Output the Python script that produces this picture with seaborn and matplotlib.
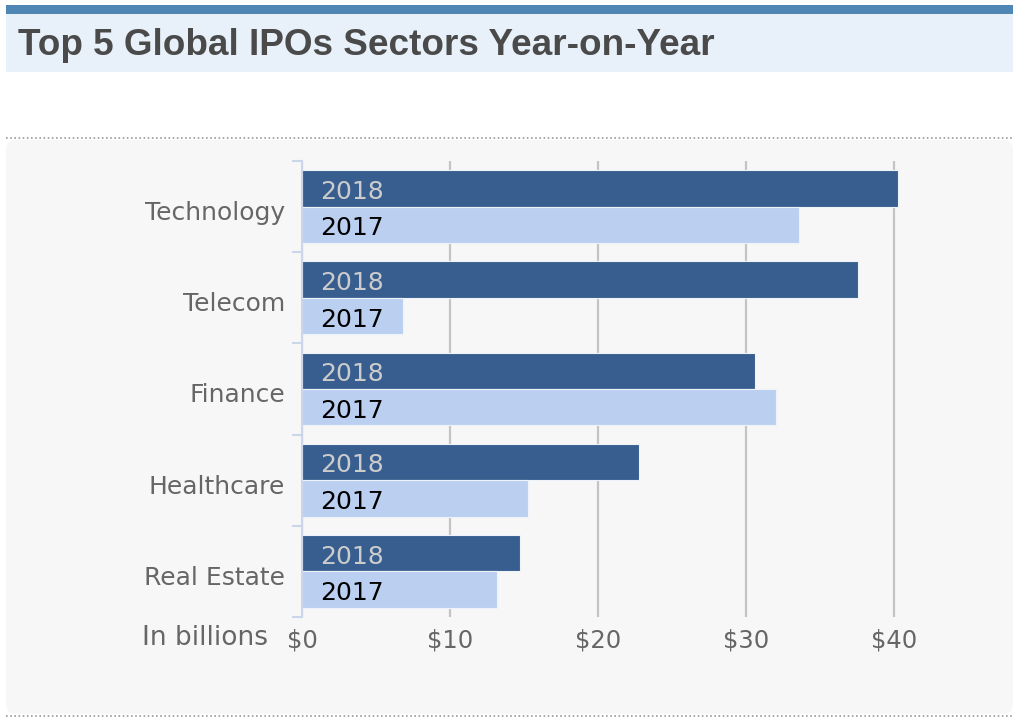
import matplotlib
matplotlib.use("Agg")
import matplotlib.pyplot as plt
from matplotlib.patches import Rectangle, FancyBboxPatch
from matplotlib.lines import Line2D
from matplotlib.transforms import IdentityTransform, ScaledTranslation
import seaborn as sns
import pandas as pd

# ---- data ----
sectors = ["Technology", "Telecom", "Finance", "Healthcare", "Real Estate"]
years = ["2018", "2017"]
values_2018 = [40.3, 37.6, 30.6, 22.8, 14.7]
values_2017 = [33.6, 6.8, 32.0, 15.3, 13.2]
x_ticks = [0, 10, 20, 30, 40]
x_tick_labels = ["$0", "$10", "$20", "$30", "$40"]
title = "Top 5 Global IPOs Sectors Year-on-Year"
axis_note = "In billions"

df = pd.DataFrame({
    "sector": sectors * 2,
    "year": ["2018"] * len(sectors) + ["2017"] * len(sectors),
    "value": values_2018 + values_2017,
})

sns.set_theme(style="white")
plt.rcParams["font.family"] = ["DejaVu Sans"]

W, H = 1024, 726
fig = plt.figure(figsize=(W / 100, H / 100), dpi=100)
fig.patch.set_facecolor("white")

def px(x, y):
    # convert top-left pixel coords to display coords
    return x, H - y

# title bar
fig.patches.append(Rectangle(px(6, 72), 1007, 58, transform=IdentityTransform(),
                             facecolor="#e8f1f9", edgecolor="none", zorder=-5))
fig.patches.append(Rectangle(px(6, 14), 1007, 9, transform=IdentityTransform(),
                             facecolor="#4f86b4", edgecolor="none", zorder=-5))
fig.text(18 / W, 1 - 55 / H, title, fontsize=26.6, fontweight="bold",
         family="Liberation Sans", color="#4a4a4a", ha="left", va="baseline")

# panel
fig.patches.append(FancyBboxPatch(px(6, 714), 1007, 574, transform=IdentityTransform(),
                                  boxstyle="round,pad=0,rounding_size=10",
                                  facecolor="#f7f7f7", edgecolor="none", zorder=-5))
for yy in (138, 716):
    fig.lines.append(Line2D([6 / W, 1013 / W], [1 - yy / H, 1 - yy / H],
                            transform=fig.transFigure, color="#9a9a9a",
                            linestyle=(0, (1, 1.5)), linewidth=1.2, zorder=-4))

ax = fig.add_axes([302 / W, 1 - 617 / H, 666 / W, 456 / H])
ax.set_zorder(2)
ax.set_facecolor("none")

sns.barplot(data=df, y="sector", x="value", hue="year", hue_order=years,
            order=sectors, orient="h", palette=["#375e8f", "#bbd0f0"],
            saturation=1, edgecolor="#eef3fa", linewidth=0.8, legend=False,
            ax=ax, errorbar=None, zorder=3)

label_colors = {"2018": "#cccccc", "2017": "#000000"}
for container, yr in zip(ax.containers, years):
    for bar in container:
        yc = bar.get_y() + bar.get_height() / 2
        ax.annotate(yr, xy=(0, yc), xytext=(13, -2.5), textcoords="offset points",
                    ha="left", va="center", fontsize=18, color=label_colors[yr],
                    zorder=5)

ax.set_xlim(0, 45)
ax.set_xticks(x_ticks)
ax.set_xticklabels(x_tick_labels)
ax.set_xlabel("")
ax.set_ylabel("")
ax.grid(axis="x", color="#c4c4c4", linewidth=1.6, zorder=0)
ax.grid(axis="y", visible=False)
ax.set_axisbelow(True)
for s in ("top", "right", "bottom"):
    ax.spines[s].set_visible(False)
ax.spines["left"].set_color("#ccd6eb")
ax.spines["left"].set_linewidth(1.5)
ax.spines["left"].set_zorder(4)

ax.tick_params(axis="x", length=0, pad=8, labelsize=17.5, labelcolor="#666666")
ax.tick_params(axis="y", which="major", left=False, length=0, pad=12,
               labelsize=18, labelcolor="#666666")
ax.set_yticks([i - 0.5 for i in range(len(sectors) + 1)], minor=True)
ax.tick_params(axis="y", which="minor", left=True, length=7, width=1.5,
               color="#ccd6eb")
shift = ScaledTranslation(0, -4 / 100, fig.dpi_scale_trans)
for lbl in ax.get_yticklabels():
    lbl.set_transform(lbl.get_transform() + shift)

fig.text(268 / W, 1 - 638 / H, axis_note, fontsize=19, color="#666666",
         ha="right", va="center")

fig.savefig("out.png", dpi=100)
